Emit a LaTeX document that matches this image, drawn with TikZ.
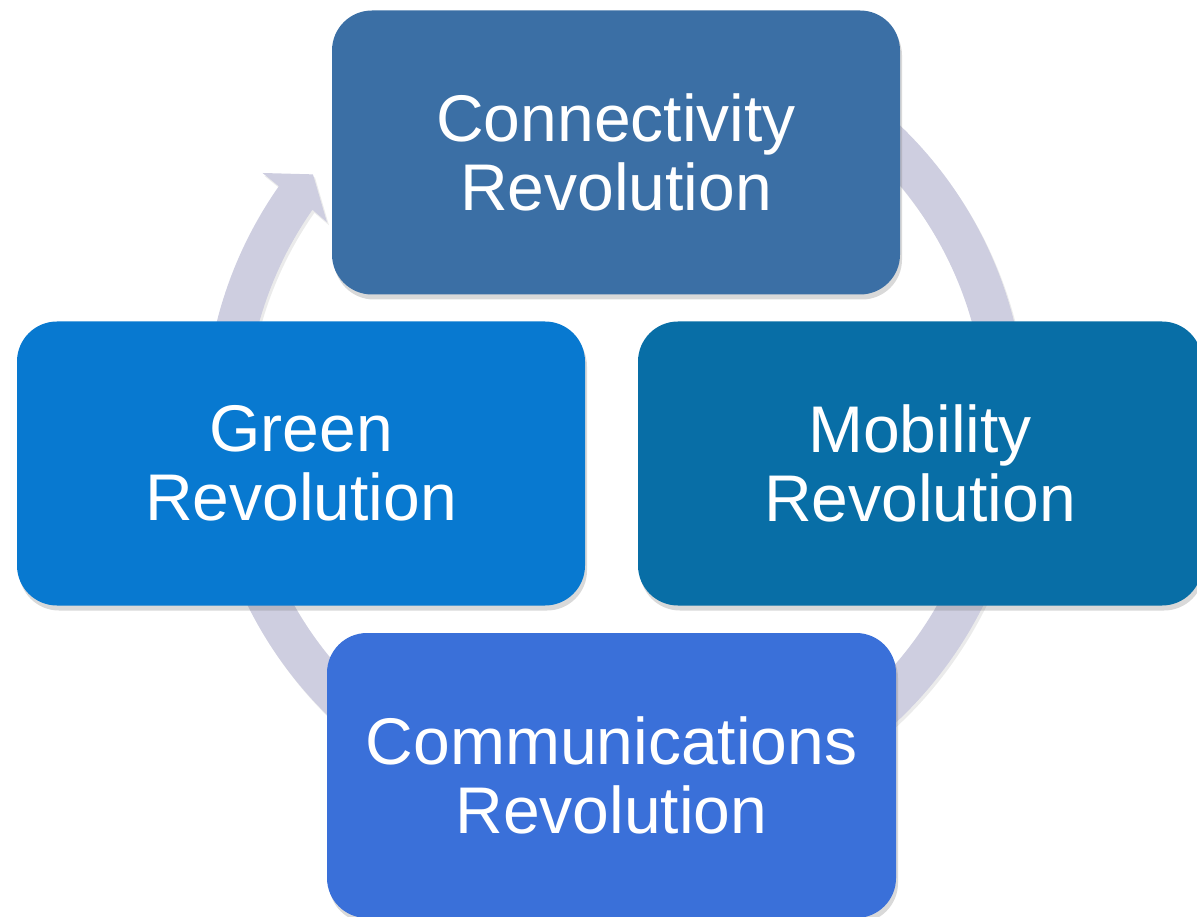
\documentclass[tikz,border=0pt]{standalone}
\usepackage{fontspec}
\setmainfont{Liberation Sans}
\usetikzlibrary{shadows}
\definecolor{ringc}{RGB}{206,206,224}
\definecolor{conc}{RGB}{59,111,165}
\definecolor{grnc}{RGB}{8,121,208}
\definecolor{mobc}{RGB}{8,110,166}
\definecolor{comc}{RGB}{58,112,217}
\begin{document}
\begin{tikzpicture}[x=0.5pt,y=0.5pt,
  revbox/.style={rounded corners=20pt, minimum width=284pt, minimum height=142pt,
    inner sep=0pt, text=white, align=center,
    font=\fontsize{33}{34.5}\selectfont,
    drop shadow={shadow xshift=1pt, shadow yshift=-2.5pt, opacity=0.3}}]
\useasboundingbox (0,0) rectangle (1197,916);
\clip (0,0) rectangle (1197,916);
\coordinate (c) at (615.5,494);
\begin{scope}[shift={(c)}]
\fill[black, opacity=0.08, shift={(2,-3)}] (-215:411) arc[start angle=-215, end angle=80, radius=411] -- (80:370) arc[start angle=80, end angle=-215, radius=370] -- (145.3:351) -- (140.7:391) -- (144.8:432) -- cycle;
\fill[ringc] (-215:411) arc[start angle=-215, end angle=80, radius=411] -- (80:370) arc[start angle=80, end angle=-215, radius=370] -- (145.3:351) -- (140.7:391) -- (144.8:432) -- cycle;
\end{scope}
\node[revbox, fill=conc] (con) at (616,763.5) {Connectivity\\Revolution};
\node[revbox, fill=grnc] (grn) at (301,452.5) {Green\\Revolution};
\node[revbox, fill=mobc, minimum width=282pt] (mob) at (920,452.5) {Mobility\\Revolution};
\node[revbox, fill=comc, minimum width=284.5pt, minimum height=142.5pt] (com) at (611.5,140.5) {Communications\\Revolution};
\end{tikzpicture}
\end{document}
